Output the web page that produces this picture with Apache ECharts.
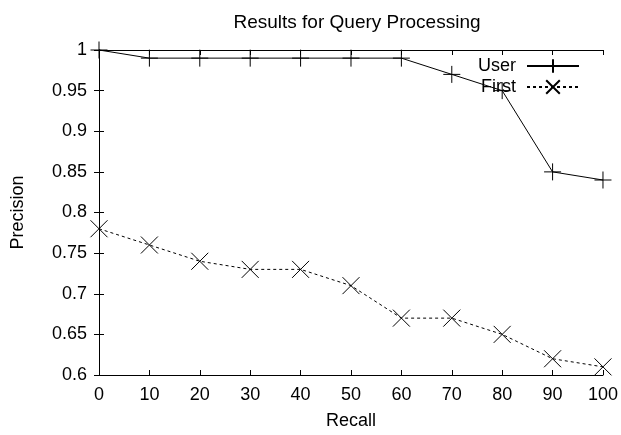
<!DOCTYPE html>
<html>
<head>
<meta charset="utf-8">
<script src="https://cdn.jsdelivr.net/npm/echarts@6/dist/echarts.min.js"></script>
<style>html,body{margin:0;padding:0;background:#fff}#c{width:621px;height:435px}</style>
</head>
<body>
<div id="c"></div>
<script>
var recall = [0, 10, 20, 30, 40, 50, 60, 70, 80, 90, 100];
var userPrecision = [1.0, 0.99, 0.99, 0.99, 0.99, 0.99, 0.99, 0.97, 0.95, 0.85, 0.84];
var firstPrecision = [0.78, 0.76, 0.74, 0.73, 0.73, 0.71, 0.67, 0.67, 0.65, 0.62, 0.61];
var seriesNames = ['User', 'First'];
var titleText = 'Results for Query Processing';
var xName = 'Recall';
var yName = 'Precision';

function pairs(xs, ys) { return xs.map(function (x, i) { return [x, ys[i]]; }); }

var FONT = 'Liberation Sans, Arial, Helvetica, sans-serif';
var FS = 18;
var plusPath = 'path://M0,8L16,8M8,0L8,16';
var crossPath = 'path://M0,0L16,16M16,0L0,16';

var chart = echarts.init(document.getElementById('c'), null, {renderer: 'canvas'});
var axisCommon = {
  type: 'value',
  axisLine: {show: true, lineStyle: {color: '#000', width: 1}},
  axisTick: {show: true, inside: true, length: 5, lineStyle: {color: '#000', width: 1}},
  splitLine: {show: false}
};
chart.setOption({
  animation: false,
  backgroundColor: '#fff',
  title: {
    text: titleText, left: 352, top: 8, textAlign: 'center',
    textStyle: {fontFamily: FONT, fontSize: 19, fontWeight: 'normal', color: '#000'}
  },
  legend: {
    data: seriesNames,
    right: 36, top: 52, orient: 'vertical', align: 'right',
    itemWidth: 52, itemHeight: 17, itemGap: 3,
    textStyle: {fontFamily: FONT, fontSize: FS, color: '#000', padding: [0, 6, 0, 0]}
  },
  grid: {left: 99, right: 17, top: 50, bottom: 56},
  xAxis: [
    Object.assign({}, axisCommon, {
      min: 0, max: 100, interval: 10, position: 'bottom',
      axisLabel: {fontFamily: FONT, fontSize: FS, color: '#000', margin: 11},
      name: xName, nameLocation: 'middle', nameGap: 37,
      nameTextStyle: {fontFamily: FONT, fontSize: FS, color: '#000'}
    }),
    Object.assign({}, axisCommon, {
      min: 0, max: 100, interval: 10, position: 'top',
      axisLabel: {show: false}
    })
  ],
  yAxis: [
    Object.assign({}, axisCommon, {
      min: 0.6, max: 1, interval: 0.05, position: 'left',
      axisLabel: {fontFamily: FONT, fontSize: FS, color: '#000', margin: 12,
        formatter: function (v) { return String(+v.toFixed(2)); }},
      name: yName, nameLocation: 'middle', nameGap: 72, nameRotate: 90,
      nameTextStyle: {fontFamily: FONT, fontSize: FS, color: '#000'}
    }),
    Object.assign({}, axisCommon, {
      min: 0.6, max: 1, interval: 0.05, position: 'right',
      axisLabel: {show: false}
    })
  ],
  series: [
    {
      name: seriesNames[0], type: 'line', data: pairs(recall, userPrecision),
      symbol: plusPath, symbolSize: 17, showAllSymbol: true, clip: false,
      lineStyle: {color: '#000', width: 1, type: 'solid'},
      itemStyle: {color: '#000', borderColor: '#000', borderWidth: 1},
      emphasis: {disabled: true}
    },
    {
      name: seriesNames[1], type: 'line', data: pairs(recall, firstPrecision),
      symbol: crossPath, symbolSize: 17, showAllSymbol: true, clip: false,
      lineStyle: {color: '#000', width: 1, type: [3, 3]},
      itemStyle: {color: '#000', borderColor: '#000', borderWidth: 1},
      emphasis: {disabled: true}
    }
  ]
});
</script>
</body>
</html>
